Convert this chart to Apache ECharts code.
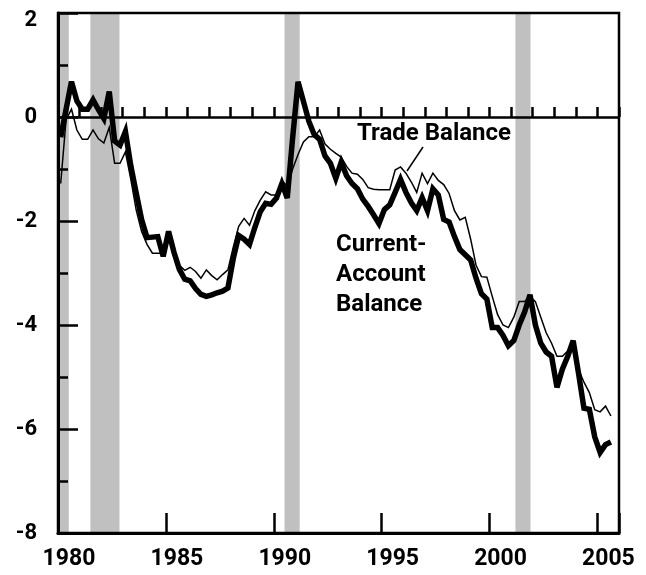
<!DOCTYPE html>
<html>
<head>
<meta charset="utf-8">
<title>Current-Account and Trade Balance</title>
<script src="https://cdn.jsdelivr.net/npm/echarts@6/dist/echarts.min.js"></script>
<style>
    html, body {margin: 0; padding: 0; background: #fff;}
    #main {width: 646px; height: 575px;}
</style>
</head>
<body>
<div id="main"></div>
<script>
//quarterly data, first quarter 1980Q1, percent of GDP
var startYear = 1980;

var currentAccount = [
    -0.39, 0.15, 0.68, 0.31, 0.15, 0.15, 0.33, 0.14, -0.03, 0.49,
    -0.46, -0.54, -0.28, -0.94, -1.46, -1.97, -2.32, -2.31, -2.30, -2.68,
    -2.20, -2.60, -2.93, -3.12, -3.15, -3.30, -3.41, -3.45, -3.42, -3.38,
    -3.35, -3.29, -2.72, -2.28, -2.35, -2.45, -2.12, -1.82, -1.66, -1.68,
    -1.56, -1.28, -1.56, -0.40, 0.68, 0.30, -0.08, -0.34, -0.43, -0.75,
    -0.89, -1.18, -0.87, -1.13, -1.28, -1.38, -1.58, -1.72, -1.88, -2.05,
    -1.78, -1.69, -1.45, -1.20, -1.45, -1.65, -1.80, -1.55, -1.80, -1.38,
    -1.50, -1.97, -2.02, -2.30, -2.55, -2.65, -2.75, -3.10, -3.40, -3.50,
    -4.05, -4.05, -4.20, -4.40, -4.30, -4.00, -3.75, -3.42, -4.00, -4.35,
    -4.52, -4.60, -5.20, -4.85, -4.60, -4.30, -4.93, -5.60, -5.62, -6.15,
    -6.45, -6.30, -6.25
];

var tradeBalance = [
    -1.28, -0.05, 0.15, -0.25, -0.43, -0.43, -0.25, -0.42, -0.50, -0.20,
    -0.89, -0.89, -0.67, -1.20, -1.79, -2.20, -2.45, -2.62, -2.62, -2.62,
    -2.30, -2.60, -2.85, -2.95, -2.89, -2.97, -3.10, -2.94, -3.05, -3.13,
    -3.03, -2.94, -2.50, -2.10, -1.95, -2.08, -1.80, -1.60, -1.44, -1.50,
    -1.50, -1.22, -1.33, -1.00, -0.72, -0.48, -0.38, -0.38, -0.25, -0.52,
    -0.62, -0.70, -0.77, -0.95, -1.08, -1.10, -1.20, -1.36, -1.39, -1.40,
    -1.40, -1.40, -1.02, -0.96, -1.08, -1.25, -1.45, -1.08, -1.28, -1.08,
    -1.22, -1.30, -1.47, -1.80, -1.98, -1.93, -2.35, -2.85, -3.07, -3.08,
    -3.45, -3.80, -4.00, -4.05, -3.85, -3.55, -3.55, -3.45, -3.55, -3.85,
    -4.15, -4.35, -4.60, -4.60, -4.50, -4.50, -4.85, -5.10, -5.30, -5.63,
    -5.67, -5.56, -5.75
];

//recession periods (shaded)
var recessions = [[1980.0, 1980.5], [1981.5, 1982.85], [1990.5, 1991.2], [2001.2, 2001.9]];

//axis labels
var yearLabels = [1980, 1985, 1990, 1995, 2000, 2005];
var valueLabels = [-8, -6, -4, -2, 0, 2];

var FONT = 'Roboto, "DejaVu Sans", sans-serif';

/*quarter index -> [year, value]*/
function toPoints(arr) {
    return arr.map(function (v, i) {
        return [startYear + (i + 0.5) / 4, v];
    });
}

var chart = echarts.init(document.getElementById('main'), null, {renderer: 'canvas'});

var tickStyle = {color: '#000', width: 2.5};

chart.setOption({
    animation: false,
    backgroundColor: '#fff',
    grid: {
        left: 58, right: 27, top: 13, bottom: 42,
        show: true, z: 4,
        borderColor: '#000', borderWidth: 2.5,
        backgroundColor: 'transparent'
    },
    xAxis: [
        {
            //labelled axis, long ticks every 5 years
            type: 'value', min: 1980, max: 2006, interval: 5, z: 3,
            axisLine: {show: true, onZero: false, lineStyle: {color: '#000', width: 3}},
            axisTick: {show: true, inside: true, length: 20, lineStyle: tickStyle},
            splitLine: {show: false},
            axisLabel: {
                margin: 15,
                formatter: function (v) {
                    return yearLabels.indexOf(v) >= 0 ? '{y|' + v + '}' : '';
                },
                rich: {
                    //label sits in the middle of the year
                    y: {padding: [0, 0, 0, 22], fontSize: 23, fontWeight: 'bold', fontFamily: FONT, color: '#000'}
                }
            }
        },
        {
            //short ticks every year
            type: 'value', min: 1980, max: 2006, interval: 1, z: 3,
            position: 'bottom',
            axisLine: {show: false},
            axisTick: {show: true, inside: true, length: 10, lineStyle: tickStyle},
            splitLine: {show: false},
            axisLabel: {show: false}
        }
    ],
    yAxis: {
        type: 'value', min: -8, max: 2, interval: 2, z: 3,
        axisLine: {show: true, onZero: false, lineStyle: {color: '#000', width: 3}},
        axisTick: {show: true, inside: true, length: 20, lineStyle: tickStyle},
        minorTick: {show: true, splitNumber: 2, length: 10, lineStyle: tickStyle},
        splitLine: {show: false},
        minorSplitLine: {show: false},
        axisLabel: {
            margin: 21,
            formatter: function (v) {
                if (valueLabels.indexOf(v) < 0) return '';
                return v === 2 ? '{t|' + v + '}' : '{n|' + v + '}';
            },
            rich: {
                n: {fontSize: 22, fontWeight: 'bold', fontFamily: FONT, color: '#000'},
                t: {padding: [14, 0, 0, 0], fontSize: 22, fontWeight: 'bold', fontFamily: FONT, color: '#000'}
            }
        }
    },
    series: [
        {
            name: 'Trade Balance',
            type: 'line',
            data: toPoints(tradeBalance),
            showSymbol: false,
            symbol: 'none',
            z: 2,
            lineStyle: {color: '#000', width: 1.5, join: 'miter'},
            //recession shading
            markArea: {
                silent: true,
                itemStyle: {color: '#c0c0c0'},
                data: recessions.map(function (r) {
                    return [{xAxis: r[0]}, {xAxis: r[1]}];
                })
            },
            //zero line
            markLine: {
                silent: true,
                symbol: 'none',
                label: {show: false},
                lineStyle: {color: '#000', width: 2.5, type: 'solid'},
                data: [{yAxis: 0}]
            }
        },
        {
            name: 'Current-Account Balance',
            type: 'line',
            data: toPoints(currentAccount),
            showSymbol: false,
            symbol: 'none',
            z: 3,
            lineStyle: {color: '#000', width: 5.5, join: 'miter', miterLimit: 4}
        }
    ],
    graphic: [
        {
            type: 'text', x: 357, y: 134, z: 10,
            style: {text: 'Trade Balance', font: 'bold 24px ' + FONT, fill: '#000', textVerticalAlign: 'middle'}
        },
        {
            type: 'line', z: 10,
            shape: {x1: 423, y1: 147, x2: 407, y2: 171},
            style: {stroke: '#000', lineWidth: 1.5}
        },
        {
            type: 'text', x: 336, y: 245, z: 10,
            style: {text: 'Current-', font: 'bold 24px ' + FONT, fill: '#000', textVerticalAlign: 'middle'}
        },
        {
            type: 'text', x: 336, y: 275, z: 10,
            style: {text: 'Account', font: 'bold 24px ' + FONT, fill: '#000', textVerticalAlign: 'middle'}
        },
        {
            type: 'text', x: 336, y: 305, z: 10,
            style: {text: 'Balance', font: 'bold 24px ' + FONT, fill: '#000', textVerticalAlign: 'middle'}
        }
    ]
});
</script>
</body>
</html>
